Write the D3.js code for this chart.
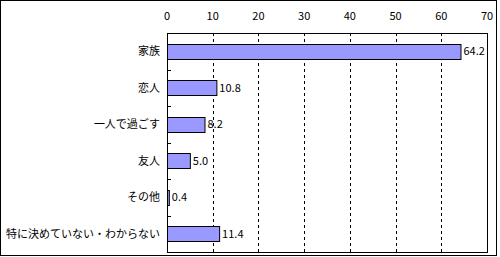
<!doctype html>
<html>
  <head>
    <meta charset="utf-8">
    <style>
      body { margin: 0; background: #fff; }
      text { font-family: "Noto Sans CJK JP", sans-serif; font-size: 11px; fill: #000; }
    </style>
  </head>
  <body>
    <div id="chart"></div>
    <script src="https://d3js.org/d3.v7.min.js"></script>
    <script>
      var categories = ['家族', '恋人', '一人で過ごす', '友人', 'その他', '特に決めていない・わからない'];
      var values = [64.2, 10.8, 8.2, 5.0, 0.4, 11.4];
      var ticks = [0, 10, 20, 30, 40, 50, 60, 70];

      (function(d3) {
        var width = 500, height = 257;
        var plotLeft = 167, plotRight = 487, plotTop = 33, plotBottom = 252;

        var svg = d3.select('#chart').append('svg')
          .attr('width', width)
          .attr('height', height);

        // outer frame
        svg.append('rect')
          .attr('x', 0.5).attr('y', 0.5)
          .attr('width', 496).attr('height', 255)
          .attr('fill', '#fff')
          .attr('stroke', '#000');

        var x = d3.scaleLinear().domain([0, 70]).range([plotLeft, plotRight]);
        var y = d3.scaleBand().domain(categories).range([plotTop, plotBottom]).paddingInner(0.6).paddingOuter(0.3);
        var yb = d3.scaleBand().domain(categories).range([plotTop, plotBottom]);

        // dashed grid
        svg.selectAll('line.grid')
          .data(ticks.slice(1, -1))
          .enter().append('line')
          .attr('class', 'grid')
          .attr('x1', function(d) { return Math.round(x(d)) + 0.5; })
          .attr('x2', function(d) { return Math.round(x(d)) + 0.5; })
          .attr('y1', plotTop).attr('y2', plotBottom)
          .attr('stroke', '#000')
          .attr('stroke-dasharray', '3,3');

        // plot border
        svg.append('rect')
          .attr('x', plotLeft + 0.5).attr('y', plotTop + 0.5)
          .attr('width', plotRight - plotLeft).attr('height', plotBottom - plotTop)
          .attr('fill', 'none')
          .attr('stroke', '#000');

        // top tick labels
        svg.selectAll('text.tick')
          .data(ticks)
          .enter().append('text')
          .attr('class', 'tick')
          .attr('x', function(d) { return x(d); })
          .attr('y', 20)
          .attr('text-anchor', 'middle')
          .text(function(d) { return d; });

        // category ticks
        svg.selectAll('line.ctick')
          .data(categories.slice(1))
          .enter().append('line')
          .attr('class', 'ctick')
          .attr('x1', plotLeft).attr('x2', plotLeft + 4)
          .attr('y1', function(d) { return Math.round(yb(d)) + 0.5; })
          .attr('y2', function(d) { return Math.round(yb(d)) + 0.5; })
          .attr('stroke', '#000');

        // bars
        svg.selectAll('rect.bar')
          .data(values)
          .enter().append('rect')
          .attr('class', 'bar')
          .attr('x', x(0) + 0.5)
          .attr('y', function(d, i) { return Math.round(y(categories[i])) + 0.5; })
          .attr('width', function(d) { return x(d) - x(0); })
          .attr('height', Math.round(y.bandwidth()))
          .attr('fill', '#9999ff')
          .attr('stroke', '#000');

        // value labels
        svg.selectAll('text.val')
          .data(values)
          .enter().append('text')
          .attr('class', 'val')
          .attr('x', function(d) { return x(d) + 3; })
          .attr('y', function(d, i) { return yb(categories[i]) + yb.bandwidth() / 2; })
          .attr('dy', '0.35em')
          .text(function(d) { return d.toFixed(1); });

        // category labels
        svg.selectAll('text.cat')
          .data(categories)
          .enter().append('text')
          .attr('class', 'cat')
          .attr('x', 160)
          .attr('y', function(d) { return yb(d) + yb.bandwidth() / 2; })
          .attr('dy', '0.35em')
          .attr('text-anchor', 'end')
          .text(function(d) { return d; });
      })(window.d3);
    </script>
  </body>
</html>
